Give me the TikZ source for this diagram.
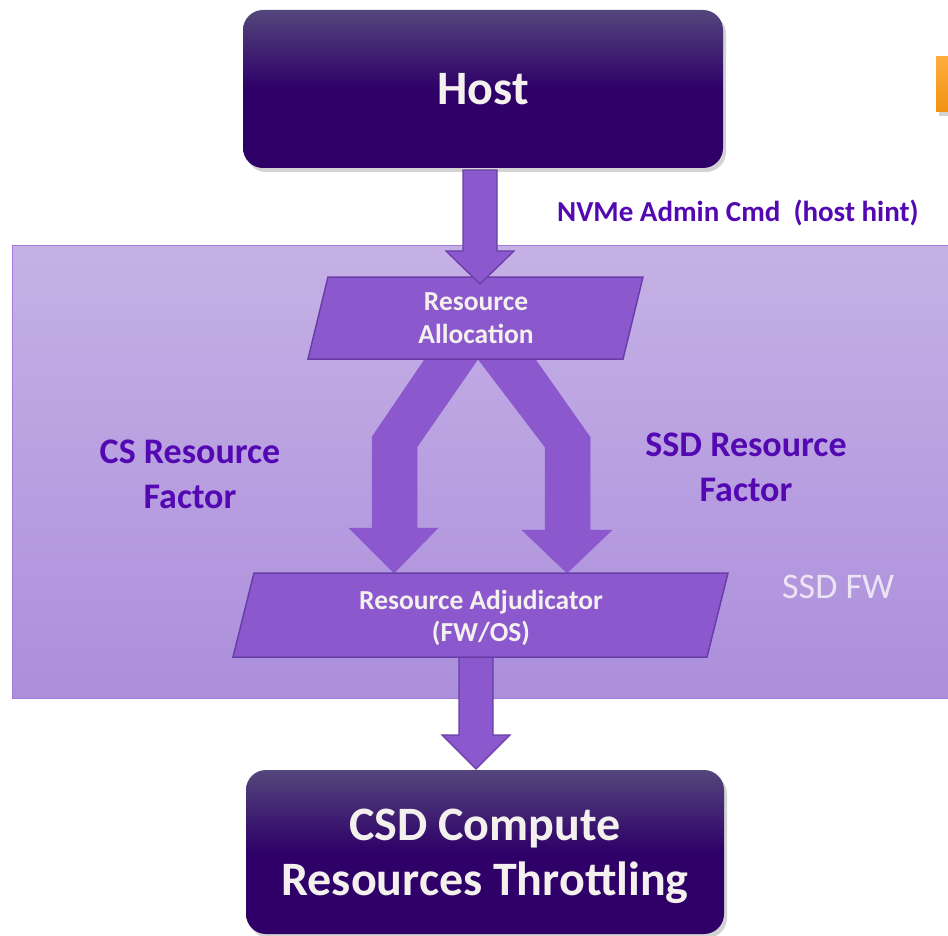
\documentclass[tikz,border=0pt]{standalone}
\usepackage{fontspec}
\setmainfont{Carlito}
\usetikzlibrary{shadows}
\definecolor{boxdk}{RGB}{46,0,104}
\definecolor{boxlt}{RGB}{84,70,124}
\definecolor{arrfill}{RGB}{139,88,205}
\definecolor{arrline}{RGB}{106,62,168}
\definecolor{txtpurple}{RGB}{84,8,178}
\definecolor{txtwhite}{RGB}{243,240,238}
\definecolor{fwtop}{RGB}{197,177,229}
\definecolor{fwbot}{RGB}{172,142,220}
\definecolor{fwline}{RGB}{160,124,216}
\definecolor{fwtext}{RGB}{236,228,245}
\definecolor{orgtop}{RGB}{255,172,62}
\definecolor{orgbot}{RGB}{240,146,18}
\pgfdeclareverticalshading{boxshade}{100bp}{color(0bp)=(boxdk); color(25bp)=(boxdk); color(50bp)=(boxdk); color(75bp)=(boxlt); color(100bp)=(boxlt)}
\tikzset{
  bigbox/.style={shade, shading=boxshade, rounded corners=20pt, text=txtwhite,
    font=\bfseries\fontsize{48}{55}\selectfont, align=center, inner sep=0pt, text depth=0pt,
    drop shadow={opacity=0.35, shadow xshift=3pt, shadow yshift=-4pt}},
  parabox/.style={fill=arrfill, draw=arrline, line width=1.5pt, line join=miter},
  paratext/.style={text=txtwhite, font=\bfseries\fontsize{27.5}{32.5}\selectfont, align=center, inner sep=0pt},
  blockarrow/.style={fill=arrfill, draw=arrline, line width=1.3pt, line join=miter},
  splitarrow/.style={fill=arrfill, draw=arrfill, line width=0.5pt},
  factor/.style={text=txtpurple, font=\bfseries\fontsize{36}{45}\selectfont, align=center, inner sep=0pt},
}
\begin{document}
\begin{tikzpicture}[x=1pt, y=-1pt]
\useasboundingbox (0,0) rectangle (948,936);
% SSD FW region
\shade[top color=fwtop, bottom color=fwbot, draw=fwline, line width=1pt] (12,246) rectangle (960,698);
\node[text=fwtext, font=\fontsize{36}{43}\selectfont, anchor=base west, inner sep=0pt] (fw) at (782,598) {SSD FW};
% orange tab
\shade[top color=orgtop, bottom color=orgbot, drop shadow={opacity=0.35, shadow xshift=3pt, shadow yshift=-4pt}] (936,57) rectangle (970,112);
% host
\node[bigbox, minimum width=480pt, minimum height=158pt] (host) at (483,89) {Host};
% split arrow
\draw[splitarrow] (425,359) -- (372,437) -- (372,528) -- (349,528) -- (394,573) -- (438,528) -- (417,528) -- (417,447) -- (478,359)
  -- (545,447) -- (545,530) -- (522,530) -- (567,573) -- (612,530) -- (590,530) -- (590,437) -- (535,359) -- cycle;
% resource allocation
\draw[parabox] (328,277) -- (643,277) -- (623,359) -- (308,359) -- cycle;
\node[paratext] (alloc) at (476,318) {Resource\\Allocation};
% top arrow
\draw[blockarrow] (463,170) -- (497,170) -- (497,251) -- (514,251) -- (480,284) -- (446,251) -- (463,251) -- cycle;
% bottom arrow
\draw[blockarrow] (459,657) -- (493,657) -- (493,735) -- (510,735) -- (476,769) -- (442,735) -- (459,735) -- cycle;
% adjudicator
\draw[parabox] (254,573) -- (728,573) -- (707,657) -- (233,657) -- cycle;
\node[paratext, text depth=0pt] (adj) at (481,616) {Resource Adjudicator\\(FW/OS)};
% bottom box
\node[bigbox, minimum width=478pt, minimum height=164pt] (csd) at (485,852) {CSD Compute\\Resources Throttling};
% labels
\node[text=txtpurple, font=\bfseries\fontsize{29}{35}\selectfont, anchor=base west, inner sep=0pt] (nvme) at (557,222) {NVMe Admin Cmd~~(host hint)};
\node[factor] (csf) at (190,474.5) {CS Resource\\Factor};
\node[factor] (ssdf) at (746,467) {SSD Resource\\Factor};
\end{tikzpicture}
\end{document}
